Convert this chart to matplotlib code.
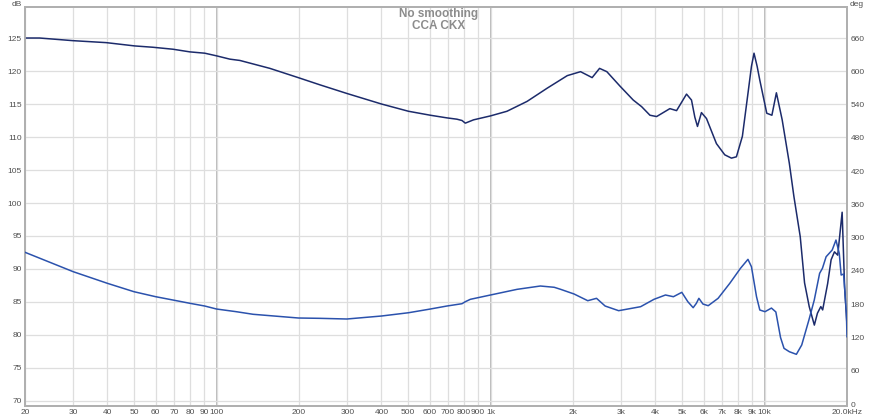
import numpy as np
import matplotlib
matplotlib.use("Agg")
import matplotlib.pyplot as plt
from matplotlib.ticker import FixedLocator, NullLocator

plt.rcParams["font.family"] = ["Liberation Sans", "DejaVu Sans"]

# upper trace (dB, left axis)
freq_spl = [20, 22.6, 29.9, 39.6, 50.3, 58.6, 69.4, 79.9, 90.6, 100, 111.8, 121.7, 156.6,
            198.7, 238.7, 299, 400, 502, 603, 693, 754, 787, 809, 867, 1000, 1148, 1360,
            1610, 1906, 2131, 2349, 2500, 2658, 2970, 3318, 3560, 3818, 4038, 4514, 4776,
            5192, 5414, 5568, 5693, 5886, 6141, 6676, 7160, 7573, 7896, 8302, 8701, 8960,
            9155, 9400, 9613, 10190, 10640, 11050, 11600, 12320, 12800, 13500, 14000,
            14560, 15200, 15600, 16050, 16300, 17000, 17500, 18000, 18500, 19200, 19600,
            20000]
spl = [125.0, 125.0, 124.6, 124.3, 123.8, 123.6, 123.3, 122.9, 122.7, 122.3, 121.8, 121.6,
       120.4, 119.0, 117.9, 116.6, 115.0, 113.9, 113.3, 112.9, 112.7, 112.5, 112.1, 112.6,
       113.2, 113.9, 115.4, 117.4, 119.3, 119.9, 119.0, 120.4, 119.9, 117.7, 115.6, 114.6,
       113.3, 113.1, 114.3, 114.0, 116.5, 115.6, 113.0, 111.6, 113.7, 112.8, 109.0, 107.3,
       106.8, 107.0, 110.1, 116.6, 120.7, 122.7, 120.7, 118.6, 113.6, 113.3, 116.7, 112.6,
       106.0, 101.0, 94.9, 87.9, 84.3, 81.5, 83.3, 84.3, 83.8, 87.8, 91.4, 92.6, 92.1,
       98.6, 87.3, 81.5]

# lower trace (deg, right axis)
freq_ph = [20, 30, 40, 50, 60, 69.4, 80, 90.6, 100, 118, 136, 199, 239, 299, 400, 502, 603,
           693, 787, 809, 844, 1000, 1250, 1520, 1708, 1803, 2018, 2264, 2437, 2620, 2935,
           3530, 3950, 4350, 4650, 4990, 5250, 5490, 5640, 5760, 5960, 6230, 6770, 7470,
           8170, 8700, 8960, 9350, 9613, 10040, 10600, 11000, 11440, 11780, 12320, 13070,
           13670, 14520, 15190, 15890, 16270, 16780, 17660, 18230, 18740, 19040, 19440,
           19900, 20000]
phase = [273.6, 238.6, 217.6, 202.5, 193.5, 187.5, 181.6, 176.7, 171.3, 166.5, 161.8, 155.1,
         154.5, 153.3, 158.7, 164.6, 171.3, 176.7, 180.9, 184.5, 188.8, 196.6, 206.8, 212.8,
         210.5, 206.8, 198.4, 186.3, 190.6, 176.7, 168.3, 175.5, 188.8, 196.6, 193.5, 201.4,
         184.5, 173.7, 181.6, 190.6, 180.3, 177.3, 190.6, 217.7, 244.7, 260.9, 247.6, 193.5,
         169.5, 166.5, 173.0, 166.0, 120.0, 100.4, 94.3, 89.6, 106.4, 151.5, 187.5, 235.7,
         244.7, 265.6, 277.7, 295.7, 271.8, 232.6, 234.4, 163.6, 121.4]

xticks = [20, 30, 40, 50, 60, 70, 80, 90, 100, 200, 300, 400, 500, 600, 700, 800, 900,
          1000, 2000, 3000, 4000, 5000, 6000, 7000, 8000, 9000, 10000, 20000]
xlabels = ["20", "30", "40", "50", "60", "70", "80", "90", "100", "200", "300", "400", "500",
           "600", "700", "800", "900", "1k", "2k", "3k", "4k", "5k", "6k", "7k", "8k", "9k",
           "10k", "20.0kHz"]
db_ticks = list(range(70, 130, 5))
deg_ticks = list(range(0, 661, 60))

fig = plt.figure(figsize=(8.77, 4.19), dpi=100)
ax = fig.add_axes([25 / 877, 1 - 406 / 419, 822 / 877, 399 / 419])
ax2 = ax.twinx()

ax.set_xscale("log")
ax.set_xlim(20, 20000)
ax.set_ylim(69.24, 129.7)
ax2.set_ylim(-3.6, 716)

ax.xaxis.set_major_locator(FixedLocator(xticks))
ax.xaxis.set_minor_locator(NullLocator())
ax.set_xticklabels(xlabels)
ax.set_yticks(db_ticks)
ax2.set_yticks(deg_ticks)

ax.grid(True, color="#dedede", lw=0.9)
for f in [100, 1000, 10000]:
    ax.axvline(f, color="#bababa", lw=1.4, zorder=1)

for a in (ax, ax2):
    a.tick_params(length=0, labelsize=6, labelcolor="#505050", pad=2.5)
    for s in a.spines.values():
        s.set_color("#b0b0b0")
        s.set_linewidth(1.3)

ax.plot(freq_spl, spl, color="#1c2b6b", lw=1.1, zorder=3)
ax2.plot(freq_ph, phase, color="#2b52ad", lw=1.1, zorder=3)

fig.text(12 / 877, 1 - 1 / 419, "dB", fontsize=6, color="#505050", ha="left", va="top")
fig.text(850 / 877, 1 - 1 / 419, "deg", fontsize=6, color="#505050", ha="left", va="top")
fig.text(439 / 877, 1 - 8 / 419, "No smoothing\nCCA CKX", fontsize=8.5, color="#8c8c8c",
         fontweight="bold", ha="center", va="top", linespacing=1.0)

fig.savefig("out.png", dpi=100)
